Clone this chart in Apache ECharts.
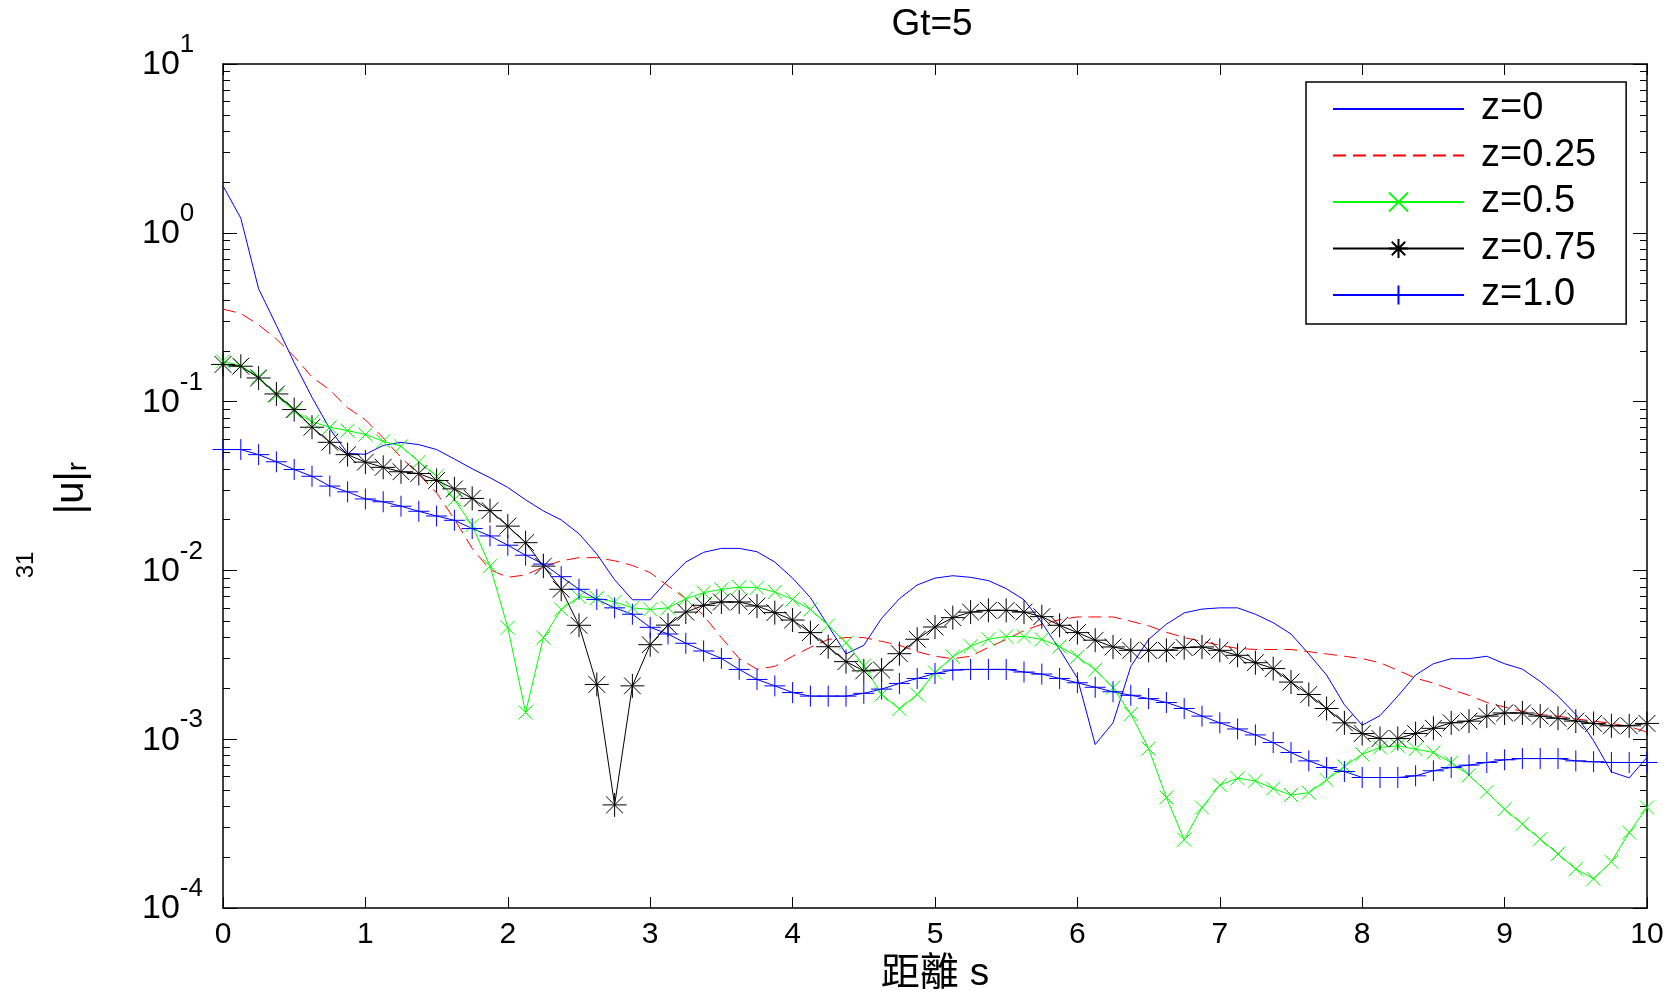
<!DOCTYPE html>
<html><head><meta charset="utf-8">
<script src="https://cdn.jsdelivr.net/npm/echarts@6/dist/echarts.min.js"></script>
<style>html,body{margin:0;padding:0;background:#fff}#c{width:1677px;height:999px}</style>
</head><body><div id="c"></div>
<script>
// distance s (sampling grid of the curves)
const distance = [0,0.125,0.25,0.375,0.5,0.625,0.75,0.875,1,1.125,1.25,1.375,1.5,1.625,1.75,1.875,2,2.125,2.25,2.375,2.5,2.625,2.75,2.875,3,3.125,3.25,3.375,3.5,3.625,3.75,3.875,4,4.125,4.25,4.375,4.5,4.625,4.75,4.875,5,5.125,5.25,5.375,5.5,5.625,5.75,5.875,6,6.125,6.25,6.375,6.5,6.625,6.75,6.875,7,7.125,7.25,7.375,7.5,7.625,7.75,7.875,8,8.125,8.25,8.375,8.5,8.625,8.75,8.875,9,9.125,9.25,9.375,9.5,9.625,9.75,9.875,10];

const z0 = [1.90,1.22,0.466,0.283,0.17,0.106,0.069,0.0494,0.0487,0.055,0.0574,
0.0556,0.052,0.0457,0.040,0.0354,0.031,0.0262,0.0225,0.0199,0.0165,
0.0125,0.0088,0.0067,0.0067,0.0088,0.0112,0.0128,0.0135,0.0135,0.0129,
0.0112,0.0090,0.0069,0.0047,0.0032,0.0036,0.0052,0.0068,0.0082,0.0090,
0.0093,0.0091,0.0087,0.0078,0.0067,0.0049,0.0034,0.0023,0.00093,0.00125,
0.0027,0.0039,0.0048,0.0056,0.0059,0.0060,0.0060,0.0055,0.0049,0.0042,
0.0032,0.0024,0.0016,0.00121,0.00138,0.0018,0.0024,0.0028,0.0030,0.0030,
0.0031,0.0028,0.0026,0.0022,0.0018,0.0014,0.00098,0.00064,0.00059,0.00078];

const z025 = [0.353,0.333,0.285,0.235,0.185,0.14,0.117,0.092,0.078,0.061,0.0467,
0.0370,0.0288,0.0201,0.0135,0.0101,0.0091,0.0094,0.0105,0.0114,0.0119,
0.0119,0.0114,0.0107,0.0097,0.0081,0.0068,0.0054,0.0040,0.0030,0.0026,
0.0027,0.0031,0.0035,0.0039,0.0040,0.0040,0.0038,0.0036,0.0033,0.0031,
0.0030,0.0031,0.0035,0.0039,0.0044,0.0048,0.0051,0.0053,0.0053,0.0053,
0.0050,0.0047,0.0043,0.0040,0.0038,0.0036,0.00345,0.0034,0.0034,0.0034,
0.0033,0.0032,0.0031,0.0030,0.00284,0.00256,0.0023,0.00215,0.00197,0.00182,
0.00165,0.00155,0.00146,0.0014,0.00137,0.00132,0.00128,0.00124,0.00119,0.0011];

const z05 = [0.173,0.163,0.14,0.109,0.088,0.0759,0.0705,0.0673,0.0638,0.0582,0.0544,
0.044,0.0361,0.0263,0.0185,0.0106,0.00458,0.00144,0.004,0.00587,0.00698,
0.00685,0.0065,0.006,0.00587,0.006,0.0068,0.00738,0.00773,0.00796,0.0079,
0.00745,0.00673,0.00587,0.00473,0.00373,0.00272,0.00184,0.00151,0.00184,0.00248,
0.00308,0.00356,0.00391,0.00406,0.00406,0.0039,0.00354,0.00308,0.00258,0.00202,
0.00141,0.00088,0.000452,0.000254,0.000394,0.000535,0.000587,0.000566,0.00051,0.000467,
0.000482,0.000574,0.00069,0.000815,0.000893,0.000914,0.000873,0.000834,0.000728,0.000612,
0.000488,0.000385,0.000314,0.000256,0.000209,0.00017,0.000149,0.000188,0.00028,0.000394];

const z075 = [0.166,0.162,0.138,0.111,0.0897,0.0705,0.0574,0.0485,0.0438,0.0408,0.0384,
0.0375,0.0341,0.0304,0.0267,0.0226,0.0183,0.0146,0.0106,0.00773,0.00473,
0.00211,0.000408,0.00207,0.00363,0.00474,0.00566,0.00621,0.0065,0.0065,0.00615,
0.00562,0.00508,0.00428,0.00353,0.00288,0.00254,0.00257,0.00321,0.00391,0.00462,
0.00525,0.00566,0.0058,0.0058,0.00566,0.00532,0.00473,0.00428,0.00386,0.00352,
0.00336,0.00336,0.00336,0.00349,0.00352,0.00336,0.00314,0.00284,0.00262,0.00218,
0.00184,0.00152,0.00125,0.00108,0.00101,0.00101,0.00108,0.00116,0.00125,0.00128,
0.00137,0.00143,0.00143,0.00137,0.00133,0.00128,0.00124,0.0012,0.0012,0.00124];

const z10 = [0.052,0.052,0.0485,0.044,0.0396,0.0361,0.0316,0.0292,0.0265,0.0255,0.024,
0.0224,0.021,0.0198,0.0177,0.016,0.0141,0.0123,0.0109,0.00918,0.00773,
0.00673,0.006,0.0055,0.0046,0.0042,0.0037,0.00333,0.00301,0.00259,0.00226,
0.00207,0.00189,0.0018,0.0018,0.0018,0.00187,0.00198,0.00214,0.00229,0.00245,
0.00257,0.00259,0.00259,0.00259,0.0025,0.00243,0.00229,0.00216,0.00203,0.00191,
0.00182,0.00174,0.00165,0.00152,0.00137,0.00125,0.00115,0.00106,0.000955,0.000834,
0.000744,0.00068,0.000644,0.000593,0.000593,0.000593,0.000607,0.00065,0.00068,0.000702,
0.000728,0.000755,0.000768,0.000768,0.000768,0.000744,0.000735,0.000728,0.000728,0.000728];

const seriesNames = ['z=0','z=0.25','z=0.5','z=0.75','z=1.0'];
const xTicks = [0,1,2,3,4,5,6,7,8,9,10];
const yTicks = [1e-4,1e-3,1e-2,1e-1,1,10];
const yMinorTicks = [2e-4,3e-4,4e-4,5e-4,6e-4,7e-4,8e-4,9e-4,
 2e-3,3e-3,4e-3,5e-3,6e-3,7e-3,8e-3,9e-3,
 2e-2,3e-2,4e-2,5e-2,6e-2,7e-2,8e-2,9e-2,
 2e-1,3e-1,4e-1,5e-1,6e-1,7e-1,8e-1,9e-1,
 2,3,4,5,6,7,8,9];

const FONT = '"Liberation Sans", Arial, "Noto Sans CJK TC", sans-serif';
const X_SYM = 'path://M0 0L10 10M10 0L0 10';
const STAR_SYM = 'path://M0 10L20 10M10 0L10 20M3 3L17 17M17 3L3 17';
const PLUS_SYM = 'path://M0 10L20 10M10 0L10 20';

const chart = echarts.init(document.getElementById('c'), null, {renderer: 'canvas'});
const pairs = arr => distance.map((s, i) => [s, arr[i]]);

function xAx(pos, labels) {
  return {
    type: 'value', position: pos, min: 0, max: 10, interval: 1,
    axisLine: {show: true, onZero: false, lineStyle: {color: '#000', width: 1.5}},
    axisTick: {show: true, inside: true, length: 11, lineStyle: {color: '#000', width: 1}},
    splitLine: {show: false},
    axisLabel: labels ? {show: true, color: '#000', fontFamily: FONT, fontSize: 30, margin: 12,
      formatter: v => String(xTicks[Math.round(v)])} : {show: false},
    name: labels ? '距離 s' : '', nameLocation: 'middle', nameGap: 47,
    nameTextStyle: {color: '#000', fontFamily: FONT, fontSize: 39}
  };
}
function yAx(pos, minor, labels) {
  return {
    type: 'log', logBase: 10, position: pos, min: 1e-4, max: 10,
    axisLine: {show: !minor, onZero: false, lineStyle: {color: '#000', width: 1.5}},
    axisTick: {show: true, inside: true, length: minor ? 7 : 14, customValues: minor ? yMinorTicks : yTicks,
      lineStyle: {color: '#000', width: 1}},
    minorTick: {show: false},
    splitLine: {show: false},
    axisLabel: labels ? {
      show: true, customValues: yTicks, align: 'left', margin: 81, color: '#000',
      padding: [0, 0, 14, 0],
      formatter: v => '{b|10}{e|' + Math.round(Math.log10(v)) + '}',
      rich: {
        b: {fontFamily: FONT, fontSize: 34, lineHeight: 50, verticalAlign: 'bottom', color: '#000'},
        e: {fontFamily: FONT, fontSize: 26, lineHeight: 24, verticalAlign: 'top', color: '#000'}
      }
    } : {show: false}
  };
}

const option = {
  animation: false,
  backgroundColor: '#fff',
  grid: {left: 223, top: 64, width: 1424, height: 845, containLabel: false},
  xAxis: [xAx('bottom', true), xAx('top', false)],
  yAxis: [yAx('left', false, true), yAx('left', true, false), yAx('right', false, false), yAx('right', true, false)],
  legend: {
    orient: 'vertical', left: 1306, top: 82,
    data: [
      {name: seriesNames[0], itemStyle: {opacity: 0}},
      {name: seriesNames[1], itemStyle: {opacity: 0}},
      {name: seriesNames[2]},
      {name: seriesNames[3]},
      {name: seriesNames[4]}
    ],
    backgroundColor: '#fff', borderColor: '#000', borderWidth: 1.5, borderRadius: 0,
    padding: [7, 30, 9, 26],
    itemWidth: 131, itemHeight: 24, itemGap: 6.5,
    textStyle: {fontFamily: FONT, fontSize: 38, lineHeight: 40, color: '#000', padding: [0, 0, 0, 12]},
    selectedMode: false
  },
  graphic: [
    {type: 'text', x: 932, y: 25, style: {text: 'Gt=5', font: '37px ' + FONT, fill: '#000', align: 'center', verticalAlign: 'middle'}},
    {type: 'text', x: 72, y: 488, rotation: Math.PI / 2,
      style: {text: '|u|{s|r}', fill: '#000', align: 'center', verticalAlign: 'middle',
        font: '40px ' + FONT,
        rich: {s: {fontFamily: FONT, fontSize: 28, lineHeight: 30, verticalAlign: 'bottom', padding: [16, 0, 0, 0]}}}},
    {type: 'text', x: 26, y: 565, rotation: Math.PI / 2,
      style: {text: '31', font: '24px ' + FONT, fill: '#000', align: 'center', verticalAlign: 'middle'}}
  ],
  series: [
    {name: 'z=0', type: 'line', data: pairs(z0), symbol: 'none', silent: true,
      lineStyle: {color: '#0000ff', width: 1}, itemStyle: {color: '#0000ff'}},
    {name: 'z=0.25', type: 'line', data: pairs(z025), symbol: 'none', silent: true,
      lineStyle: {color: '#ff0000', width: 1, type: [13, 7]}, itemStyle: {color: '#ff0000'}},
    {name: 'z=0.5', type: 'line', data: pairs(z05), symbol: X_SYM, symbolSize: 14, silent: true,
      lineStyle: {color: '#00ff00', width: 1}, itemStyle: {color: '#00ff00', borderColor: '#00ff00', borderWidth: 1}},
    {name: 'z=0.75', type: 'line', data: pairs(z075), symbol: STAR_SYM, symbolSize: 24, silent: true,
      lineStyle: {color: '#000000', width: 1}, itemStyle: {color: '#000000', borderColor: '#000000', borderWidth: 1}},
    {name: 'z=1.0', type: 'line', data: pairs(z10), symbol: PLUS_SYM, symbolSize: 21, silent: true,
      lineStyle: {color: '#0000ff', width: 1}, itemStyle: {color: '#0000ff', borderColor: '#0000ff', borderWidth: 1}}
  ]
};
chart.setOption(option);
</script></body></html>
